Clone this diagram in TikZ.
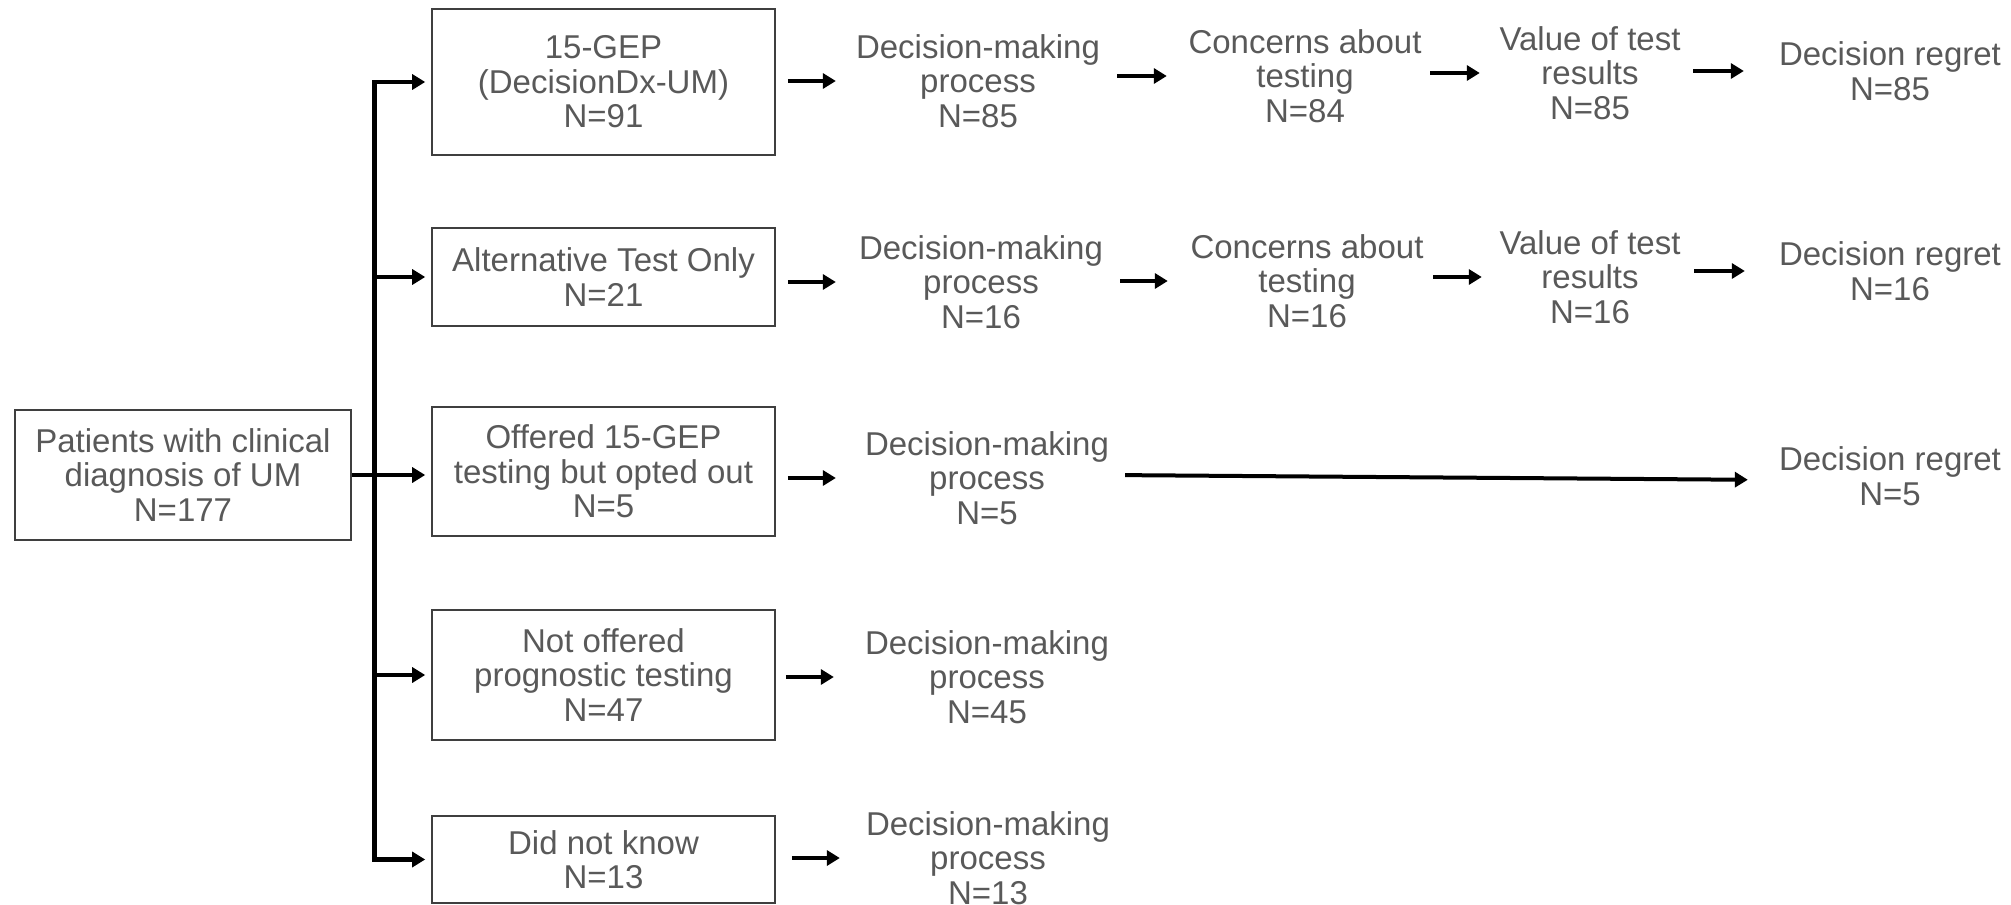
\documentclass[tikz,border=0pt]{standalone}
\usepackage{fontspec}
\setmainfont{Liberation Sans}
\usetikzlibrary{arrows.meta}
\definecolor{txt}{HTML}{595959}
\definecolor{bord}{HTML}{3F3F3F}
\begin{document}
\begin{tikzpicture}[x=1pt,y=-1pt,
  every node/.style={font=\fontsize{33}{34.6}\selectfont, text=txt, align=center, inner sep=0pt},
  box/.style={draw=bord, line width=1.6pt, minimum width=343pt},
  arr/.style={line width=4.5pt, -{Triangle[length=13pt,width=15pt]}}]
\useasboundingbox (0,0) rectangle (2011,905);

\node[box, minimum width=336pt, minimum height=130pt] (L) at (183,475) {Patients with clinical\\diagnosis of UM\\N=177};
\node[box, minimum height=146pt] (B1) at (603.5,82) {15-GEP\\(DecisionDx-UM)\\N=91};
\node[box, minimum height=98pt] (B2) at (603.5,277) {Alternative Test Only\\N=21};
\node[box, minimum height=129pt] (B3) at (603.5,471.5) {Offered 15-GEP\\testing but opted out\\N=5};
\node[box, minimum height=130pt] (B4) at (603.5,675) {Not offered\\prognostic testing\\N=47};
\node[box, minimum height=87pt] (B5) at (603.5,859.5) {Did not know\\N=13};

\node (D1) at (978,81) {Decision-making\\process\\N=85};
\node (D2) at (981,282) {Decision-making\\process\\N=16};
\node (D3) at (987,478) {Decision-making\\process\\N=5};
\node (D4) at (987,677) {Decision-making\\process\\N=45};
\node (D5) at (988,858) {Decision-making\\process\\N=13};

\node (C1) at (1305,76) {Concerns about\\testing\\N=84};
\node (C2) at (1307,281) {Concerns about\\testing\\N=16};
\node (V1) at (1590,73) {Value of test\\results\\N=85};
\node (V2) at (1590,277) {Value of test\\results\\N=16};
\node (R1) at (1890,71) {Decision regret\\N=85};
\node (R2) at (1890,271) {Decision regret\\N=16};
\node (R3) at (1890,476) {Decision regret\\N=5};

\coordinate (T) at (374.5,475);
\draw[arr, shorten >=6pt] (L.east) -- (L.east -| B3.west);
\draw[arr, shorten >=6pt] (T) |- (B1.west);
\draw[arr, shorten >=6pt] (T) |- (B5.west);
\draw[arr, shorten >=6pt] (T |- B2.west) -- (B2.west);
\draw[arr, shorten >=6pt] (T |- B4.west) -- (B4.west);

\draw[arr, shorten <=12pt, shorten >=20pt] (B1.east |- D1.west) -- (D1.west);
\draw[arr, shorten <=12pt, shorten >=23pt] (B2.east |- D2.west) -- (D2.west);
\draw[arr, shorten <=12pt, shorten >=29pt] (B3.east |- D3.west) -- (D3.west);
\draw[arr, shorten <=10pt, shorten >=31pt] (B4.east |- D4.west) -- (D4.west);
\draw[arr, shorten <=16pt, shorten >=26pt] (B5.east |- D5.west) -- (D5.west);

\draw[arr, shorten <=17pt, shorten >=21.5pt] (D1.east |- C1.west) -- (C1.west);
\draw[arr, shorten <=8.5pt, shorten >=19.5pt] (C1.east |- V1.west) -- (V1.west);
\draw[arr, shorten <=12.5pt, shorten >=35pt] (V1.east |- R1.west) -- (R1.west);
\draw[arr, shorten <=17pt, shorten >=22.5pt] (D2.east |- C2.west) -- (C2.west);
\draw[arr, shorten <=9.5pt, shorten >=17.5pt] (C2.east |- V2.west) -- (V2.west);
\draw[arr, shorten <=13.5pt, shorten >=34pt] (V2.east |- R2.west) -- (R2.west);
\draw[arr, line width=4pt, shorten <=16pt, shorten >=31pt] ([yshift=3pt]D3.east) -- ([yshift=-4pt]R3.west);
\end{tikzpicture}
\end{document}
